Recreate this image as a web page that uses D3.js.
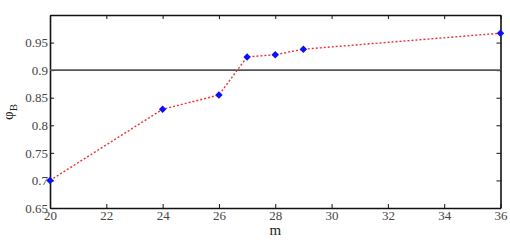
<!DOCTYPE html>
<html lang="en">
<head>
    <meta charset="UTF-8">
    <title>phi_B vs m</title>
    <script src="https://d3js.org/d3.v7.min.js"></script>
    <style>
        body { margin: 0; background: #fff; }
        svg { display: block; }
    </style>
</head>
<body>
    <svg id="chart"></svg>
    <script>
        // data
        const mValues = [20, 24, 26, 27, 28, 29, 36];
        const phiValues = [0.700, 0.829, 0.855, 0.924, 0.928, 0.938, 0.967];
        const xTicks = [20, 22, 24, 26, 28, 30, 32, 34, 36];
        const yTicks = [0.65, 0.7, 0.75, 0.8, 0.85, 0.9, 0.95];
        const threshold = 0.9;

        const width = 510, height = 240;
        const margin = { top: 15, right: 9.5, bottom: 32, left: 50 };
        const serif = "'Liberation Serif', 'DejaVu Serif', serif";

        const svg = d3.select("#chart")
            .attr("width", width)
            .attr("height", height);

        const x = d3.scaleLinear().domain([20, 36]).range([margin.left, width - margin.right]);
        const y = d3.scaleLinear().domain([0.65, 1.0]).range([height - margin.bottom, margin.top]);

        function styleAxis(g) {
            g.attr("font-family", serif).attr("font-size", 13);
            g.selectAll("path").attr("stroke", "#111").attr("stroke-width", 1.6);
            g.selectAll("line").attr("stroke", "#111");
            g.selectAll("text").attr("fill", "#444");
        }

        // frame with inward ticks on all sides
        svg.append("g")
            .attr("transform", `translate(0,${height - margin.bottom})`)
            .call(d3.axisBottom(x).tickValues(xTicks).tickSizeInner(-4).tickSizeOuter(0).tickPadding(3))
            .call(styleAxis);
        svg.append("g")
            .attr("transform", `translate(0,${margin.top})`)
            .call(d3.axisTop(x).tickValues(xTicks).tickSizeInner(-4).tickSizeOuter(0).tickFormat(""))
            .call(styleAxis);
        svg.append("g")
            .attr("transform", `translate(${margin.left},0)`)
            .call(d3.axisLeft(y).tickValues(yTicks).tickSizeInner(-4).tickSizeOuter(0).tickPadding(2).tickFormat(d3.format("")))
            .call(styleAxis);
        svg.append("g")
            .attr("transform", `translate(${width - margin.right},0)`)
            .call(d3.axisRight(y).tickValues(yTicks).tickSizeInner(-4).tickSizeOuter(0).tickFormat(""))
            .call(styleAxis);

        // reference line at 0.9
        svg.append("line")
            .attr("x1", x(20)).attr("x2", x(36))
            .attr("y1", y(threshold)).attr("y2", y(threshold))
            .attr("stroke", "#555").attr("stroke-width", 1.8);

        const points = mValues.map((m, i) => ({ m, phi: phiValues[i] }));

        svg.append("path")
            .datum(points)
            .attr("fill", "none")
            .attr("stroke", "#f03030")
            .attr("stroke-width", 1.4)
            .attr("stroke-dasharray", "2,2")
            .attr("d", d3.line().x(d => x(d.m)).y(d => y(d.phi)));

        // square diamonds (square rotated 45deg)
        svg.selectAll(".pt")
            .data(points)
            .enter().append("path")
            .attr("class", "pt")
            .attr("transform", d => `translate(${x(d.m)},${y(d.phi)}) rotate(45)`)
            .attr("d", d3.symbol().type(d3.symbolSquare).size(28))
            .attr("fill", "#0a10ff");

        // axis labels
        svg.append("text")
            .attr("x", x(28)).attr("y", 235)
            .attr("text-anchor", "middle")
            .attr("font-family", serif)
            .attr("font-size", 15)
            .attr("fill", "#222")
            .text("m");

        const yl = svg.append("text")
            .attr("transform", `translate(13,112) rotate(-90)`)
            .attr("text-anchor", "middle")
            .attr("font-family", serif)
            .attr("font-size", 15)
            .attr("fill", "#222");
        yl.append("tspan").text("φ");
        yl.append("tspan").attr("font-size", 11).attr("dy", 4).text("B");
    </script>
</body>
</html>
